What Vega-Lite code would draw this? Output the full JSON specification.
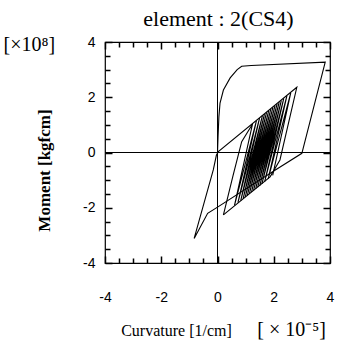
{
  "$schema": "https://vega.github.io/schema/vega-lite/v6.json",
  "width": 225,
  "height": 221,
  "autosize": {"type": "none"},
  "padding": {"left": 105, "top": 42, "right": 8, "bottom": 80},
  "background": "white",
  "config": {
    "view": {"stroke": "black", "strokeWidth": 1.2},
    "axis": {"domain": false, "ticks": false, "tickSize": 0, "gridColor": "black", "gridOpacity": 1, "gridWidth": 1.5, "labelColor": "black", "labelFont": "Liberation Sans", "labelFontSize": 14, "titleColor": "black", "titleFont": "Liberation Serif", "titleFontWeight": "normal", "labelFlush": false}
  },
  "datasets": {
    "outer": [
      {"i": 0, "c": 0, "m": 0},
      {"i": 1, "c": 0.02, "m": 0.6},
      {"i": 2, "c": 0.05, "m": 1.3},
      {"i": 3, "c": 0.09, "m": 1.79},
      {"i": 4, "c": 0.21, "m": 2.26},
      {"i": 5, "c": 0.45, "m": 2.7},
      {"i": 6, "c": 0.7, "m": 3.0},
      {"i": 7, "c": 0.86, "m": 3.12},
      {"i": 8, "c": 1.2, "m": 3.15},
      {"i": 9, "c": 3.83, "m": 3.27},
      {"i": 10, "c": 3.0, "m": -0.03},
      {"i": 11, "c": 2.0, "m": -0.67},
      {"i": 12, "c": 0.03, "m": -1.96},
      {"i": 13, "c": -0.35, "m": -2.2},
      {"i": 14, "c": -0.83, "m": -3.11},
      {"i": 15, "c": -0.15, "m": -0.63},
      {"i": 16, "c": -0.04, "m": -0.1},
      {"i": 17, "c": 0.03, "m": 0.03},
      {"i": 18, "c": 2.82, "m": 2.36},
      {"i": 19, "c": 2.22, "m": -0.27},
      {"i": 20, "c": 1.87, "m": -0.88},
      {"i": 21, "c": 0.21, "m": -2.26}
    ],
    "inner": [
      {"i": 0, "c": 0.21, "m": -2.26},
      {"i": 1, "c": 0.55, "m": -0.85},
      {"i": 2, "c": 0.86, "m": 0.39},
      {"i": 3, "c": 1.246, "m": 1.034},
      {"i": 4, "c": 0.604, "m": -1.917},
      {"i": 5, "c": 1.383, "m": 1.148},
      {"i": 6, "c": 0.727, "m": -1.818},
      {"i": 7, "c": 1.495, "m": 1.241},
      {"i": 8, "c": 0.826, "m": -1.739},
      {"i": 9, "c": 1.595, "m": 1.324},
      {"i": 10, "c": 0.912, "m": -1.67},
      {"i": 11, "c": 1.67, "m": 1.386},
      {"i": 12, "c": 0.987, "m": -1.611},
      {"i": 13, "c": 1.744, "m": 1.448},
      {"i": 14, "c": 1.061, "m": -1.551},
      {"i": 15, "c": 1.819, "m": 1.51},
      {"i": 16, "c": 1.135, "m": -1.492},
      {"i": 17, "c": 1.894, "m": 1.572},
      {"i": 18, "c": 1.209, "m": -1.433},
      {"i": 19, "c": 1.969, "m": 1.634},
      {"i": 20, "c": 1.283, "m": -1.374},
      {"i": 21, "c": 2.043, "m": 1.696},
      {"i": 22, "c": 1.357, "m": -1.314},
      {"i": 23, "c": 2.118, "m": 1.758},
      {"i": 24, "c": 1.431, "m": -1.255},
      {"i": 25, "c": 2.193, "m": 1.82},
      {"i": 26, "c": 1.505, "m": -1.196},
      {"i": 27, "c": 2.268, "m": 1.882},
      {"i": 28, "c": 1.579, "m": -1.137},
      {"i": 29, "c": 2.355, "m": 1.954},
      {"i": 30, "c": 1.678, "m": -1.058},
      {"i": 31, "c": 2.467, "m": 2.047},
      {"i": 32, "c": 1.802, "m": -0.958},
      {"i": 33, "c": 2.604, "m": 2.161},
      {"i": 34, "c": 1.962, "m": -0.83}
    ]
  },
  "resolve": {"axis": {"x": "independent", "y": "independent"}},
  "layer": [
    {
      "data": {"name": "outer"},
      "mark": {"type": "line", "color": "black", "strokeWidth": 1.1},
      "encoding": {
        "x": {"field": "c", "type": "quantitative", "scale": {"domain": [-4, 4], "nice": false, "zero": false},
          "axis": {"orient": "bottom", "values": [-4, -2, 0, 2, 4], "grid": true, "gridDash": [7, 207, 7], "labelPadding": 27, "labelExpr": "'' + datum.value",
            "title": "Curvature [1/cm]", "titleFontSize": 16, "titleX": 71, "titleY": 72, "titleAlign": "center", "titleBaseline": "alphabetic"}},
        "y": {"field": "m", "type": "quantitative", "scale": {"domain": [-4, 4], "nice": false, "zero": false},
          "axis": {"orient": "left", "values": [-4, -2, 0, 2, 4], "grid": true, "gridDash": [7, 211, 7], "labelPadding": 10, "labelExpr": "'' + datum.value",
            "title": "Moment [kgfcm]", "titleFontSize": 17, "titleFontWeight": "bold", "titleAngle": 270, "titleX": -56, "titleY": 128, "titleAlign": "center", "titleBaseline": "alphabetic"}},
        "order": {"field": "i"}
      }
    },
    {
      "data": {"name": "inner"},
      "mark": {"type": "line", "color": "black", "strokeWidth": 1.1},
      "encoding": {
        "x": {"field": "c", "type": "quantitative", "scale": {"domain": [-4, 4], "nice": false, "zero": false},
          "axis": {"orient": "top", "values": [-4, -2, 0, 2, 4], "grid": false, "labels": false,
            "title": "element : 2(CS4)", "titleFontSize": 22, "titleX": 113, "titleY": -17, "titleAlign": "center", "titleBaseline": "alphabetic"}},
        "y": {"field": "m", "type": "quantitative", "scale": {"domain": [-4, 4], "nice": false, "zero": false}, "axis": null},
        "order": {"field": "i"}
      }
    },
    {
      "data": {"values": [{}]},
      "mark": {"type": "rule", "color": "black", "strokeWidth": 1},
      "encoding": {
        "x": {"datum": 0, "type": "quantitative", "scale": {"domain": [-4, 4], "nice": false, "zero": false},
          "axis": {"orient": "bottom", "values": [-3.5, -3, -2.5, -1.5, -1, -0.5, 0.5, 1, 1.5, 2.5, 3, 3.5], "grid": true, "gridDash": [5, 211, 5], "labels": false,
            "title": "[ × 10⁻⁵]", "titleFontSize": 20, "titleX": 186, "titleY": 72, "titleAlign": "center", "titleBaseline": "alphabetic"}},
        "y": {"datum": -4, "type": "quantitative", "scale": {"domain": [-4, 4], "nice": false, "zero": false},
          "axis": {"orient": "left", "values": [-3.5, -3, -2.5, -1.5, -1, -0.5, 0.5, 1, 1.5, 2.5, 3, 3.5], "grid": true, "gridDash": [5, 215, 5], "labels": false,
            "title": "[×10⁸]", "titleFontSize": 20, "titleAngle": 0, "titleX": -102, "titleY": 8, "titleAlign": "left", "titleBaseline": "alphabetic"}},
        "y2": {"datum": 4}
      }
    },
    {
      "data": {"values": [{}]},
      "mark": {"type": "rule", "color": "black", "strokeWidth": 1},
      "encoding": {
        "y": {"datum": 0, "type": "quantitative", "scale": {"domain": [-4, 4], "nice": false, "zero": false}, "axis": null},
        "x": {"datum": -4, "type": "quantitative", "scale": {"domain": [-4, 4], "nice": false, "zero": false}, "axis": null},
        "x2": {"datum": 4}
      }
    }
  ]
}
